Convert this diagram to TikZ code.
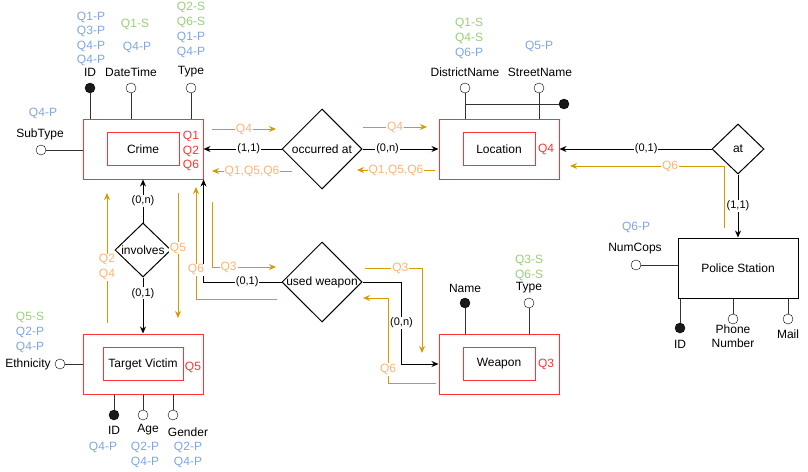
\documentclass[tikz,border=0pt]{standalone}
\usepackage{fontspec}
\setmainfont{Liberation Sans}
\usetikzlibrary{arrows.meta}
\usetikzlibrary{shapes.geometric}
\usetikzlibrary{positioning,calc}
\definecolor{qred}{HTML}{FF3333}
\definecolor{qorange}{HTML}{D79B00}
\definecolor{qpeach}{HTML}{FFB570}
\definecolor{qblue}{HTML}{7EA6E0}
\definecolor{qgreen}{HTML}{97D077}
\tikzstyle{entity}=[draw=qred,line width=1pt,minimum width=120pt,minimum height=60pt,inner sep=0pt]
\tikzstyle{innerentity}=[draw=qred,line width=1pt,minimum height=33pt,inner sep=0pt]
\tikzstyle{relation}=[diamond,draw,line width=1pt,inner sep=0pt]
\tikzstyle{attr}=[circle,draw,fill=white,minimum size=10pt,inner sep=0pt]
\tikzstyle{keyattr}=[attr,fill=black!90]
\tikzstyle{attredge} = [draw,black!80,line width=1pt]
\tikzstyle{edge} = [draw,line width=1pt,-{Stealth[length=7pt,width=6pt]}]
\tikzstyle{card} = [font=\fontsize{11}{13}\selectfont,fill=white,inner sep=1pt]
\tikzstyle{qflow} = [draw=qorange,line width=1pt,-{Stealth[length=7pt,width=6pt]}]
\tikzstyle{qlabel} = [text=qpeach,fill=white,inner sep=1pt]
\tikzstyle{txt} = [align=center,inner sep=0pt]

\begin{document}
\begin{tikzpicture}[x=1pt,y=-1pt,font=\fontsize{12}{14.5}\selectfont]
\useasboundingbox (0,0) rectangle (808,471);

    % First we draw the entities
    \foreach \pos/\name/\label/\w in {{(143,149)/crime/Crime/72}, {(499,149)/loc/Location/72}, {(499,364)/weapon/Weapon/72}, {(143,364)/victim/Target Victim/80}}
    {
        \node[entity] (\name) at \pos {};
        \node[innerentity,minimum width=\w pt] (\name-in) at \pos {\label};
    }
    \node[draw,line width=1pt,minimum width=120pt,minimum height=60pt] (police) at (738,268) {Police Station};

    % queries per entity
    \node[txt,text=qred] (crime-q) at (191,151) {Q1\\Q2\\Q6};
    \node[txt,text=qred] (loc-q) at (546,149) {Q4};
    \node[txt,text=qred] (weapon-q) at (546,364) {Q3};
    \node[txt,text=qred] (victim-q) at (193,367) {Q5};

    % relationships
    \node[relation,minimum width=80pt,minimum height=80pt] (occ) at (322,149) {occurred at};
    \node[relation,minimum width=80pt,minimum height=80pt,inner xsep=-3pt] (uw) at (322,282) {used weapon};
    \node[relation,minimum width=56pt,minimum height=54pt] (inv) at (143,250) {involves};
    \node[relation,minimum width=52pt,minimum height=50pt] (at) at (738,149) {at};

    % attributes
    \foreach \pos/\name/\kind in {{(90,88)/crimeid/keyattr}, {(131,88)/crimedt/attr}, {(191,88)/crimetype/attr}, {(41,150)/crimesub/attr},
        {(465,88)/dname/attr}, {(539,88)/sname/attr}, {(564,104)/lockey/keyattr},
        {(465,303)/wname/keyattr}, {(529,303)/wtype/attr},
        {(60,364)/eth/attr}, {(114,415)/vid/keyattr}, {(143,415)/vage/attr}, {(173,415)/vgender/attr},
        {(636,265)/numcops/attr}, {(680,328)/pid/keyattr}, {(733,319)/pphone/attr}, {(788,319)/pmail/attr}}
        \node[\kind] (\name) at \pos {};

    \foreach \a/\e in {crimeid/crime, crimedt/crime, crimetype/crime, dname/loc, sname/loc, wname/weapon, wtype/weapon}
        \path[attredge] (\a) -- (\a |- \e.north);
    \foreach \a/\e in {vid/victim, vage/victim, vgender/victim, pid/police, pphone/police, pmail/police}
        \path[attredge] (\a) -- (\a |- \e.south);
    \foreach \a/\e in {crimesub/crime, eth/victim, numcops/police}
        \path[attredge] (\a) -- (\a -| \e.west);
    \path[attredge] (dname |- lockey) -- (lockey);

    % attribute names and query tags
    \foreach \pos/\name/\col/\txt in {{(90,72)/t1/black/ID}, {(91,39)/t2/qblue/Q1-P\\Q3-P\\Q4-P\\Q4-P},
        {(131,72)/t3/black/DateTime}, {(135,24)/t4/qgreen/Q1-S}, {(137,47)/t5/qblue/Q4-P},
        {(191,72)/t6/black/Type}, {(191,15)/t7/qgreen/Q2-S\\Q6-S}, {(191,45)/t8/qblue/Q1-P\\Q4-P},
        {(40,134)/t9/black/SubType}, {(43,113)/t10/qblue/Q4-P},
        {(465,72)/t11/black/DistrictName}, {(469,31)/t12/qgreen/Q1-S\\Q4-S}, {(469,53)/t13/qblue/Q6-P},
        {(540,72)/t14/black/StreetName}, {(539,46)/t15/qblue/Q5-P},
        {(465,288)/t16/black/Name}, {(529,288)/t17/black/Type}, {(529,268)/t18/qgreen/Q3-S\\Q6-S},
        {(28,364)/t19/black/Ethnicity}, {(30,317)/t20/qgreen/Q5-S}, {(30,340)/t21/qblue/Q2-P\\Q4-P},
        {(114,430)/t22/black/ID}, {(103,447)/t23/qblue/Q4-P},
        {(148,430)/t24/black/Age}, {(145,455)/t25/qblue/Q2-P\\Q4-P},
        {(188,432)/t26/black/Gender}, {(188,455)/t27/qblue/Q2-P\\Q4-P},
        {(635,249)/t28/black/NumCops}, {(636,227)/t29/qblue/Q6-P},
        {(680,344)/t30/black/ID}, {(733,336)/t31/black/Phone\\Number}, {(788,334)/t32/black/Mail}}
        \node[txt,text=\col] (\name) at \pos {\txt};

    % Connect entities and relationships
    \path[edge] (occ.west) -- node[card,pos=0.42] {(1,1)} (crime.east);
    \path[edge] (occ.east) -- node[card,pos=0.33] {(0,n)} (loc.west);
    \path[edge] (inv.north) -- node[card] {(0,n)} (crime.south);
    \path[edge] (inv.south) -- node[card,pos=0.28] {(0,1)} (victim.north);
    \path[edge] (uw.west) -| node[card,pos=0.22] {(0,1)} (crime.south east);
    \path[edge] (uw.east) -- ++(39,0) |- node[card,pos=0.25] {(0,n)} (weapon.west);
    \path[edge] (at.west) -- node[card,pos=0.43] {(0,1)} (loc.east);
    \path[edge] (at.south) -- node[card] {(1,1)} (police.north);

    % query paths
    \foreach \pos/\name in {{(212,129)/f1a}, {(276,129)/f1b}, {(292,171)/f2a}, {(212,171)/f2b},
        {(363,127)/f3a}, {(427,127)/f3b}, {(435,170)/f4a}, {(357,170)/f4b},
        {(724,228)/f5a}, {(570,166)/f5b}, {(107,323)/f6a}, {(107,193)/f6b},
        {(178,193)/f7a}, {(178,318)/f7b}, {(212,202)/f8a}, {(276,267)/f8b},
        {(277,299)/f9a}, {(196,187)/f9b}, {(365,268)/f10a}, {(422,353)/f10b},
        {(436,383)/f11a}, {(388,298)/f11b}, {(363,298)/f11c}}
        \node[coordinate] (\name) at \pos {};

    \path[qflow] (f1a) -- node[qlabel] {Q4} (f1b);
    \path[qflow] (f2a) -- node[qlabel] {Q1,Q5,Q6} (f2b);
    \path[qflow] (f3a) -- node[qlabel] {Q4} (f3b);
    \path[qflow] (f4a) -- node[qlabel] {Q1,Q5,Q6} (f4b);
    \path[qflow] (f5a) |- node[qlabel,pos=0.675] {Q6} (f5b);
    \path[qflow] (f6a) -- node[qlabel,txt,inner sep=1pt,pos=0.43] {Q2\\Q4} (f6b);
    \path[qflow] (f7a) -- node[qlabel,pos=0.44] {Q5} (f7b);
    \path[qflow] (f8a) |- node[qlabel,pos=0.63] {Q3} (f8b);
    \path[qflow] (f9a) -| node[qlabel,pos=0.63] {Q6} (f9b);
    \path[qflow] (f10a) -| node[qlabel,pos=0.31] {Q3} (f10b);
    \path[qflow] (f11a) -| node[qlabel,pos=0.58] {Q6} (f11b) -- (f11c);

\end{tikzpicture}
\end{document}
